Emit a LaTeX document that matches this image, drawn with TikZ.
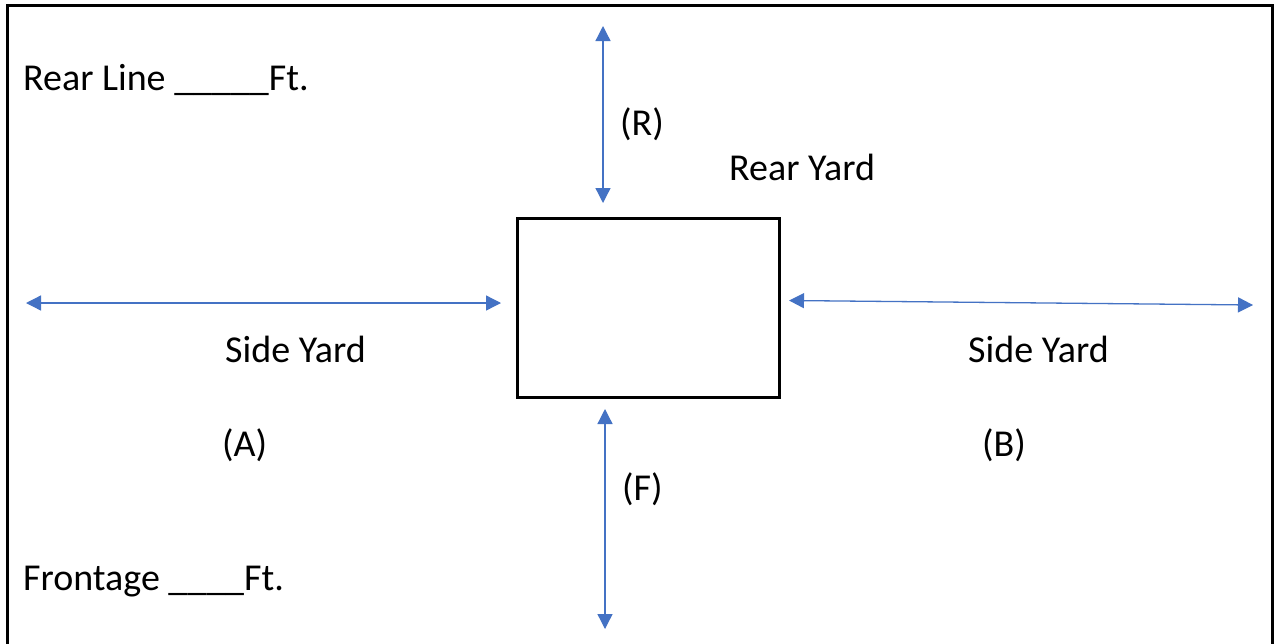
\documentclass[tikz,border=0pt]{standalone}
\usepackage{fontspec}
\setmainfont{Carlito}
\usetikzlibrary{arrows.meta}
\definecolor{arrowblue}{HTML}{4472C4}
\tikzset{
  dim/.style={draw=arrowblue, line width=1.3pt, {Triangle[length=15pt,width=15pt,fill=arrowblue]}-{Triangle[length=15pt,width=15pt,fill=arrowblue]}},
  lbl/.style={font=\fontsize{38}{44}\selectfont, inner sep=0pt, anchor=base west},
  frameline/.style={draw=black, line width=3pt},
  house/.style={draw=black, line width=3pt}
}
\begin{document}
\begin{tikzpicture}[x=1pt,y=-1pt]
\useasboundingbox (0,0) rectangle (1276,643);
\fill[white] (0,0) rectangle (1276,643);
\coordinate (fbl) at (7,645);
\coordinate (ftl) at (7,5);
\coordinate (ftr) at (1272,5);
\coordinate (fbr) at (1272,645);
\draw[frameline] (fbl) -- (ftl) -- (ftr) -- (fbr);
\node[house, minimum width=262pt, minimum height=179pt, inner sep=0pt] (box) at (648,307.5) {};
% arrows
\coordinate (lA) at (26,303);
\coordinate (lB) at (501,303);
\coordinate (rA) at (789,300.5);
\coordinate (rB) at (1253,305);
\coordinate (tA) at (603,26);
\coordinate (tB) at (603,203);
\coordinate (bA) at (605,409);
\coordinate (bB) at (605,629);
\draw[dim] (lA) -- (lB);
\draw[dim] (rA) -- (rB);
\draw[dim] (tA) -- (tB);
\draw[dim] (bA) -- (bB);
% labels
\node[lbl] (rearline) at (23,90) {Rear Line \_\_\_\_\_Ft.};
\node[lbl] (R) at (620,135) {(R)};
\node[lbl] (rearyard) at (729,180) {Rear Yard};
\node[lbl] (sideA) at (225,362) {Side Yard};
\node[lbl] (A) at (222,456) {(A)};
\node[lbl] (sideB) at (968,362) {Side Yard};
\node[lbl] (B) at (982,456) {(B)};
\node[lbl] (F) at (622,500) {(F)};
\node[lbl] (frontage) at (23,590) {Frontage \_\_\_\_Ft.};
\end{tikzpicture}
\end{document}
